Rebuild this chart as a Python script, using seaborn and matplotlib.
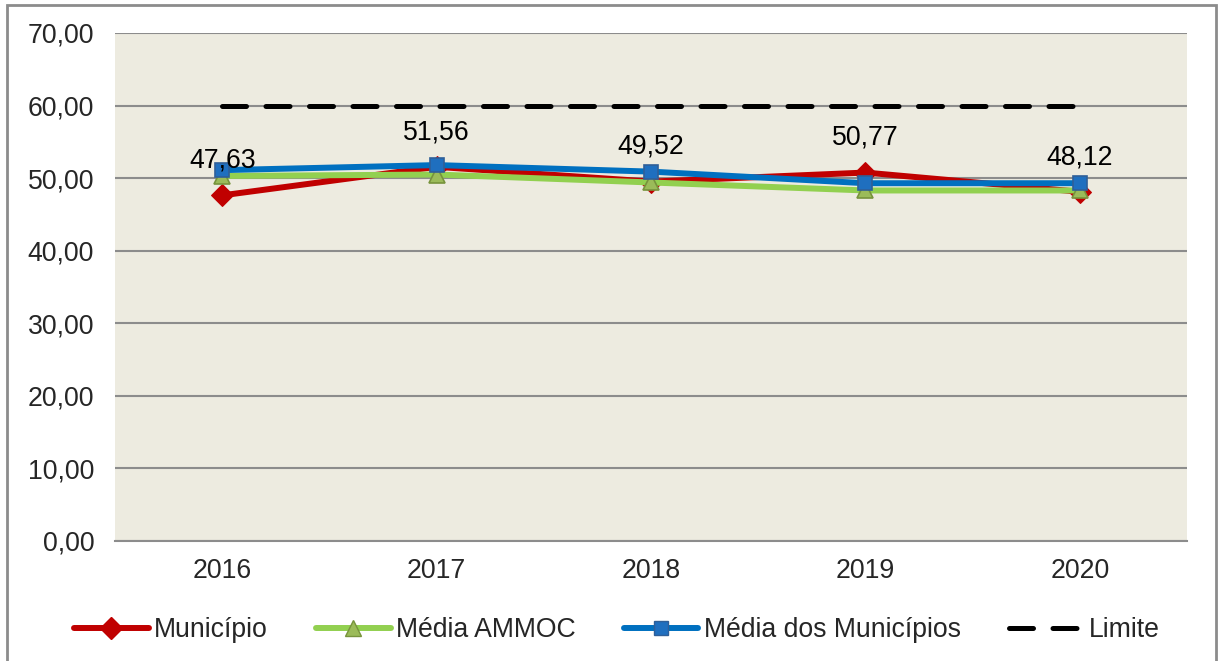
import matplotlib
matplotlib.use("Agg")
import matplotlib.pyplot as plt
import numpy as np
import pandas as pd
import seaborn as sns
from matplotlib.patches import Rectangle
from matplotlib.lines import Line2D

# data
years = [2016, 2017, 2018, 2019, 2020]
municipio = [47.63, 51.56, 49.52, 50.77, 48.12]
media_ammoc = [50.3, 50.5, 49.4, 48.3, 48.3]
media_municipios = [51.1, 51.8, 50.9, 49.3, 49.3]
limite = [60, 60, 60, 60, 60]
y_ticks = [0, 10, 20, 30, 40, 50, 60, 70]

sns.set_theme(style="white")
plt.rcParams['font.family'] = ['Liberation Sans', 'DejaVu Sans']
fs = 19.2

fig = plt.figure(figsize=(12.19, 6.61), dpi=100)
ax = fig.add_axes([115/1219, 1 - 541/661, (1187-115)/1219, (541-33)/661])
ax.set_facecolor("#EDEBE0")

df = pd.DataFrame({"Ano": years, "Município": municipio, "Média AMMOC": media_ammoc,
                   "Média dos Municípios": media_municipios, "Limite": limite})

sns.lineplot(data=df, x="Ano", y="Limite", ax=ax, color="black", lw=3.6,
             dashes=False, zorder=2)
ax.lines[-1].set_dashes((4.8, 3.9))
ax.lines[-1].set_dash_capstyle("round")
sns.lineplot(data=df, x="Ano", y="Município", ax=ax, color="#C00000", lw=4.3,
             marker="D", markersize=11.5, markerfacecolor="#C00000",
             markeredgecolor="#C00000", zorder=3)
sns.lineplot(data=df, x="Ano", y="Média AMMOC", ax=ax, color="#92D050", lw=4.3,
             marker="^", markersize=11, markerfacecolor="#9BBB59",
             markeredgecolor="#77933C", markeredgewidth=1.2, zorder=4)
sns.lineplot(data=df, x="Ano", y="Média dos Municípios", ax=ax, color="#0070C0", lw=4.3,
             marker="s", markersize=10.5, markerfacecolor="#1F6FBF",
             markeredgecolor="#2F5F98", markeredgewidth=1.2, zorder=5)

for x, v in zip(years, municipio):
    ax.annotate(f"{v:.2f}".replace(".", ","), (x, v), xytext=(0, 25),
                textcoords="offset points", ha="center", va="center",
                fontsize=fs, color="black", zorder=6)

ax.set_xlim(2015.5, 2020.5)
ax.set_ylim(0, 70)
ax.set_yticks(y_ticks)
ax.set_yticklabels([f"{t:.2f}".replace(".", ",") for t in y_ticks], fontsize=fs)
ax.set_xticks(years)
ax.set_xticklabels([str(y) for y in years], fontsize=fs)
ax.tick_params(axis="both", length=0, pad=12)
ax.tick_params(axis="y", pad=15)
ax.set_xlabel("")
ax.set_ylabel("")
ax.grid(axis="y", color="#8C8C8C", lw=1.5)
ax.set_axisbelow(True)
for s in ["left", "right", "top"]:
    ax.spines[s].set_visible(False)
ax.spines["bottom"].set_color("#8C8C8C")
ax.spines["bottom"].set_linewidth(1.5)

handles = [
    Line2D([], [], color="#C00000", lw=4.3, marker="D", markersize=11.5, markerfacecolor="#C00000"),
    Line2D([], [], color="#92D050", lw=4.3, marker="^", markersize=11,
           markerfacecolor="#9BBB59", markeredgecolor="#77933C"),
    Line2D([], [], color="#0070C0", lw=4.3, marker="s", markersize=10.5,
           markerfacecolor="#1F6FBF", markeredgecolor="#2F5F98"),
    Line2D([], [], color="black", lw=3.6, dashes=(4.8, 3.9), dash_capstyle="round"),
]
labels = ["Município", "Média AMMOC", "Média dos Municípios", "Limite"]
fig.legend(handles, labels, loc="center", bbox_to_anchor=(0.506, 1 - 630/661), ncol=4,
           frameon=False, fontsize=fs, handlelength=2.8, handletextpad=0.2,
           columnspacing=1.8)

fig.patches.append(Rectangle((7/1219, -0.05), (1216-7)/1219, 1 - 5/661 + 0.05,
                             transform=fig.transFigure, fill=False,
                             edgecolor="#8C8C8C", lw=2, zorder=0))

fig.savefig("out.png", dpi=100)
